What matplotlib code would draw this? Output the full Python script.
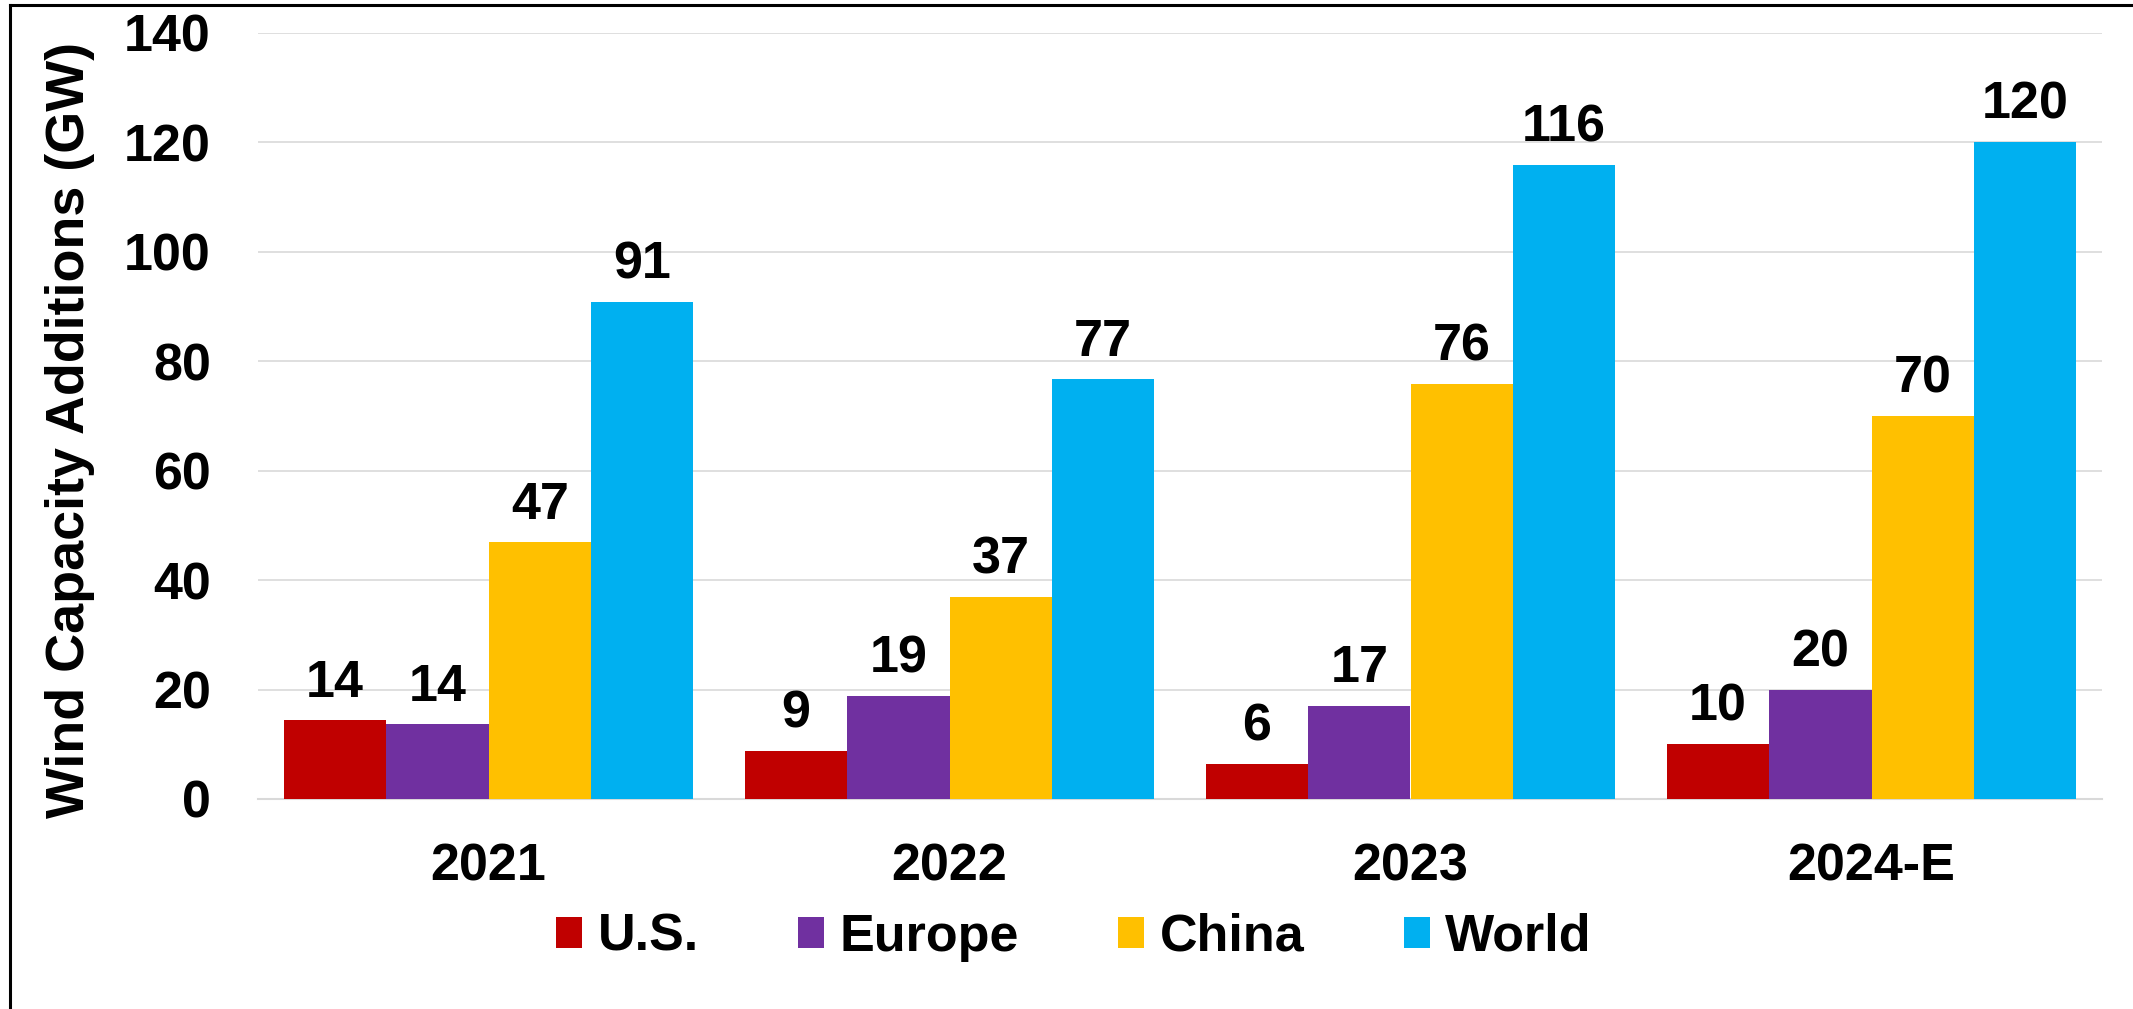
import matplotlib
matplotlib.use("Agg")
import matplotlib.pyplot as plt
from matplotlib.lines import Line2D
from matplotlib.patches import Patch
import numpy as np

categories = ["2021", "2022", "2023", "2024-E"]
series_names = ["U.S.", "Europe", "China", "World"]
us_vals = [14.4, 8.8, 6.4, 10.1]
europe_vals = [13.7, 18.8, 17.0, 20.0]
china_vals = [46.9, 37.0, 75.8, 70.0]
world_vals = [90.8, 76.7, 115.8, 120.0]
colors = ["#C00000", "#7030A0", "#FFC000", "#00B0F0"]
yticks = [0, 20, 40, 60, 80, 100, 120, 140]

plt.rcParams['font.family'] = ['Liberation Sans', 'DejaVu Sans']
plt.rcParams['font.weight'] = 'bold'

FS = 37.5
W, H = 2133, 1009
fig = plt.figure(figsize=(W / 100, H / 100), dpi=100)
ax = fig.add_axes([258 / W, 1 - 799 / H, (2102 - 258) / W, (799 - 33) / H])

x = np.arange(len(categories))
bw = 0.2223
all_vals = [us_vals, europe_vals, china_vals, world_vals]
for i, (vals, name, c) in enumerate(zip(all_vals, series_names, colors)):
    bars = ax.bar(x + (i - 1.5) * bw, vals, width=bw, color=c, label=name, zorder=3)
    ax.bar_label(bars, labels=[f"{v:.0f}" for v in vals], padding=9,
                 fontsize=FS, fontweight='bold', color='black')

ax.set_xlim(-0.5, len(categories) - 0.5)
ax.set_ylim(0, 140)
ax.set_yticks(yticks)
ax.set_xticks(x)
ax.set_xticklabels(categories)
ax.tick_params(axis='both', length=0, labelsize=FS)
ax.tick_params(axis='y', pad=34)
ax.tick_params(axis='x', pad=31)
for lab in ax.get_xticklabels() + ax.get_yticklabels():
    lab.set_fontweight('bold')

ax.yaxis.grid(True, color='#D9D9D9', linewidth=1.2, zorder=0)
ax.set_axisbelow(True)
for s in ['top', 'right', 'left']:
    ax.spines[s].set_visible(False)
ax.spines['bottom'].set_color('#D9D9D9')
ax.spines['bottom'].set_linewidth(1.5)

ax.set_ylabel("Wind Capacity Additions (GW)", fontsize=38.8, fontweight='bold')
ax.yaxis.set_label_coords((95 - 258) / (2102 - 258), 0.482)

handles = [Patch(facecolor=c, edgecolor='none') for c in colors]
fig.legend(handles, series_names, loc='center', bbox_to_anchor=(1074 / W, 1 - 937 / H),
           ncol=4, frameon=False, handlelength=0.5, handleheight=0.54,
           handletextpad=0.3, columnspacing=1.9, prop={'weight': 'bold', 'size': FS})

fig.add_artist(Line2D([10 / W, 10 / W], [0, 1 - 4.5 / H], transform=fig.transFigure,
                      color='black', linewidth=2.2))
fig.add_artist(Line2D([10 / W, 1], [1 - 4.5 / H, 1 - 4.5 / H], transform=fig.transFigure,
                      color='black', linewidth=2.2))

fig.savefig("out.png", dpi=100, facecolor='white')
